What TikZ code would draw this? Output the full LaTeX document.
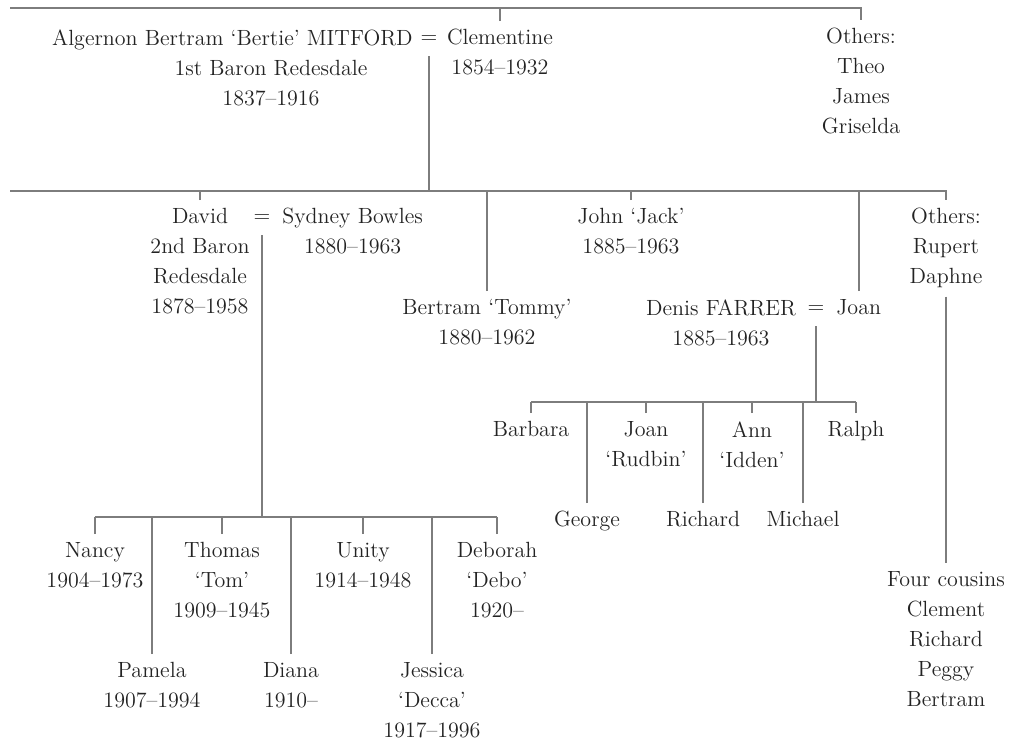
\documentclass[tikz,border=0pt]{standalone}
\usepackage{fontspec}
\usepackage{tikz}
\definecolor{ruleg}{RGB}{125,125,125}
\definecolor{inkg}{RGB}{35,35,35}
\tikzset{
  ln/.style={draw=ruleg, line width=1.1pt},
  person/.style={anchor=north, align=center, inner xsep=1pt, inner ysep=4pt,
    font=\fontsize{11}{15}\selectfont, text=inkg},
  wed/.style={inner sep=0pt, minimum height=16pt, minimum width=8pt,
    font=\fontsize{11}{15}\selectfont, text=inkg}
}
\begin{document}
\begin{tikzpicture}[x=0.5pt, y=-0.5pt]
\useasboundingbox (0,0) rectangle (1013,746);
\coordinate (bar1) at (10,8);
\coordinate (bar2) at (10,191);
\coordinate (bar3) at (0,402);
\coordinate (bar4) at (0,517);
\node[person, anchor=north east] (alg) at (415,21) {Algernon Bertram `Bertie' MITFORD};
\node[person] (algsub) at (271,52) {1st Baron Redesdale\\1837--1916};
\node[wed] (eqA) at (429,40) {=};
\node[person] (clem) at (500,21) {Clementine\\1854--1932};
\node[person] (othA) at (861,20) {Others:\\Theo\\James\\Griselda};
\node[person] (david) at (200,200) {David\\2nd Baron\\Redesdale\\1878--1958};
\node[wed] (eqB) at (262,219) {=};
\node[person, anchor=north west] (sydney) at (280,200) {Sydney Bowles\\1880--1963};
\node[person] (tommy) at (487,291) {Bertram `Tommy'\\1880--1962};
\node[person] (jack) at (631,200) {John `Jack'\\1885--1963};
\node[person] (denis) at (721,291) {Denis FARRER\\1885--1963};
\node[wed] (eqC) at (816,310) {=};
\node[person, anchor=north west] (joan) at (834,291) {Joan};
\node[person] (othB) at (946,200) {Others:\\Rupert\\Daphne};
\node[person] (cousins) at (946,563) {Four cousins\\Clement\\Richard\\Peggy\\Bertram};
\node[person] (barbara) at (531,413) {Barbara};
\node[person] (george) at (587,503) {George};
\node[person] (joanR) at (646,413) {Joan\\`Rudbin'};
\node[person] (richard) at (703,503) {Richard};
\node[person] (ann) at (752,413) {Ann\\`Idden'};
\node[person] (michael) at (803,503) {Michael};
\node[person] (ralph) at (856,413) {Ralph};
\node[person] (nancy) at (95,534) {Nancy\\1904--1973};
\node[person] (pamela) at (152,654) {Pamela\\1907--1994};
\node[person] (thomas) at (222,534) {Thomas\\`Tom'\\1909--1945};
\node[person] (diana) at (291,654) {Diana\\1910--};
\node[person] (unity) at (363,534) {Unity\\1914--1948};
\node[person] (jessica) at (432,654) {Jessica\\`Decca'\\1917--1996};
\node[person] (deborah) at (497,534) {Deborah\\`Debo'\\1920--};
\draw[ln] (bar1) -| (othA.north);
\draw[ln] (clem.north) -- (clem.north |- bar1);
\draw[ln] (bar2) -| (othB.north);
\draw[ln] (eqA.south) -- (eqA.south |- bar2);
\foreach \k in {david,tommy,jack,joan} \draw[ln] (\k.north) -- (\k.north |- bar2);
\draw[ln] (othB.south) -- (cousins.north);
\draw[ln] (eqC.south) -- (eqC.south |- bar3);
\draw[ln] (barbara.north |- bar3) -- (ralph.north |- bar3);
\foreach \k in {barbara,george,joanR,richard,ann,michael,ralph} \draw[ln] (\k.north) -- (\k.north |- bar3);
\draw[ln] (eqB.south) -- (eqB.south |- bar4);
\draw[ln] (nancy.north |- bar4) -- (deborah.north |- bar4);
\foreach \k in {nancy,pamela,thomas,diana,unity,jessica,deborah} \draw[ln] (\k.north) -- (\k.north |- bar4);
\end{tikzpicture}
\end{document}
